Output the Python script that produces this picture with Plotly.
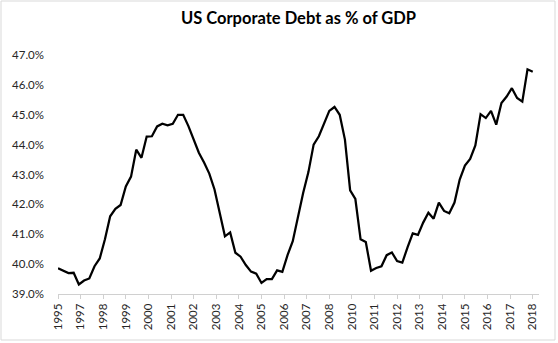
import numpy as np
import plotly.graph_objects as go

# Quarterly US corporate debt as % of GDP
debt_pct = [
    39.86, 39.77, 39.70, 39.71, 39.32, 39.45, 39.52, 39.93, 40.19, 40.83,
    41.60, 41.85, 41.98, 42.60, 42.93, 43.83, 43.56, 44.27, 44.28, 44.61,
    44.70, 44.65, 44.70, 45.00, 45.00, 44.62, 44.17, 43.73, 43.40, 43.03,
    42.50, 41.73, 40.93, 41.06, 40.38, 40.25, 39.97, 39.75, 39.68, 39.37,
    39.50, 39.50, 39.79, 39.74, 40.30, 40.77, 41.60, 42.39, 43.08, 44.00,
    44.28, 44.70, 45.13, 45.26, 45.00, 44.17, 42.47, 42.18, 40.83, 40.74,
    39.78, 39.87, 39.93, 40.30, 40.39, 40.10, 40.05, 40.56, 41.03, 40.98,
    41.39, 41.72, 41.52, 42.06, 41.78, 41.70, 42.06, 42.83, 43.30, 43.52,
    43.97, 45.02, 44.89, 45.13, 44.67, 45.39, 45.61, 45.89, 45.56, 45.44,
    46.52, 46.44,
]
x_labels = ["1995", "1997", "1998", "1999", "2000", "2001", "2002", "2003",
            "2004", "2005", "2006", "2007", "2008", "2010", "2011", "2012",
            "2013", "2014", "2015", "2016", "2017", "2018"]
y_ticks = [39, 40, 41, 42, 43, 44, 45, 46, 47]

W, H = 558, 343
ML, MR, MT, MB = 58, 19, 55, 49

n = len(debt_pct)
xs = list(range(n))
tickvals = list(np.linspace(0, n - 1, len(x_labels)))

fig = go.Figure()
fig.add_trace(go.Scatter(
    x=xs, y=debt_pct, mode="lines",
    line=dict(color="#000000", width=2.25),
    hoverinfo="skip", showlegend=False,
))

fnt = "Lato, 'Open Sans', Arial, sans-serif"

fig.update_layout(
    width=W, height=H,
    margin=dict(l=ML, r=MR, t=MT, b=MB, pad=0),
    paper_bgcolor="white", plot_bgcolor="white",
    title=dict(text="<b>US Corporate Debt as % of GDP</b>",
               x=0.5, xref="paper", xanchor="center",
               y=1 - 18 / H, yref="container", yanchor="middle",
               font=dict(family=fnt, size=16.5, color="#000000")),
    font=dict(family=fnt, size=11, color="#262626"),
    xaxis=dict(
        range=[0, n - 1 + 1.2],
        tickmode="array", tickvals=tickvals, ticktext=x_labels,
        tickangle=-90,
        showgrid=False, zeroline=False,
        showline=True, linecolor="#d0d0d0", linewidth=1,
        ticks="outside", ticklen=4, tickcolor="#d0d0d0",
        tickfont=dict(family=fnt, size=11.5, color="#262626"),
    ),
    yaxis=dict(
        range=[39, 47],
        tickmode="array", tickvals=y_ticks,
        ticktext=[f"{v:.1f}%" for v in y_ticks],
        showgrid=False, zeroline=False, showline=False,
        ticks="", ticklabelstandoff=13,
        tickfont=dict(family=fnt, size=11.5, color="#262626"),
    ),
)

# light grey chart-area border
pw = W - ML - MR
ph = H - MT - MB
fig.add_shape(
    type="rect", xref="paper", yref="paper",
    x0=(1 - ML) / pw, x1=(555 - ML) / pw,
    y0=-(340 - (H - MB)) / ph, y1=1 + (MT - 1) / ph,
    line=dict(color="#d9d9d9", width=1), fillcolor="rgba(0,0,0,0)",
    layer="below",
)

fig.write_html("out.html")
